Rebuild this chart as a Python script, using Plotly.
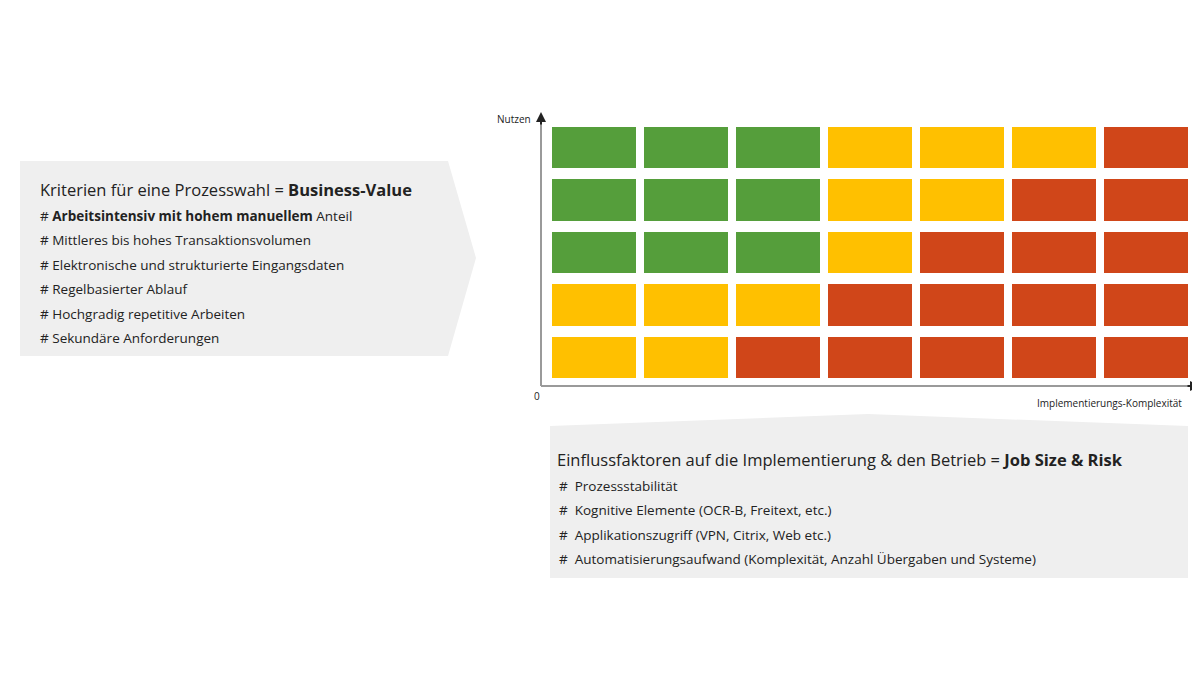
import plotly.graph_objects as go

cols = ["1", "2", "3", "4", "5", "6", "7"]
rows = ["1", "2", "3", "4", "5"]  # bottom to top
# 0 = green, 1 = yellow, 2 = red
levels = [
    [1, 1, 2, 2, 2, 2, 2],
    [1, 1, 1, 2, 2, 2, 2],
    [0, 0, 0, 1, 2, 2, 2],
    [0, 0, 0, 1, 1, 2, 2],
    [0, 0, 0, 1, 1, 1, 2],
]
left_title = ["Kriterien für eine Prozesswahl = ", "Business-Value"]
left_items = [
    "# <b>Arbeitsintensiv mit hohem manuellem</b> Anteil",
    "# Mittleres bis hohes Transaktionsvolumen",
    "# Elektronische und strukturierte Eingangsdaten",
    "# Regelbasierter Ablauf",
    "# Hochgradig repetitive Arbeiten",
    "# Sekundäre Anforderungen",
]
bottom_title = ["Einflussfaktoren auf die Implementierung & den Betrieb = ", "Job Size & Risk"]
bottom_items = [
    "#  Prozessstabilität",
    "#  Kognitive Elemente (OCR-B, Freitext, etc.)",
    "#  Applikationszugriff (VPN, Citrix, Web etc.)",
    "#  Automatisierungsaufwand (Komplexität, Anzahl Übergaben und Systeme)",
]

W, H = 1200, 675
L, R, T, B = 540, 1184, 114, 376
def px(x): return (x - L) / (R - L)
def py(y): return (B - y) / (B - T)

fig = go.Figure(go.Heatmap(
    z=levels, x=cols, y=rows, xgap=8, ygap=11, showscale=False, hoverinfo="skip",
    zmin=0, zmax=2,
    colorscale=[[0, "#559E3B"], [0.333, "#559E3B"], [0.333, "#FFC000"], [0.667, "#FFC000"],
                [0.667, "#D04619"], [1, "#D04619"]],
))

FONT = "Open Sans"
shapes = []
def path(pts):
    return "M " + " L ".join(f"{px(x)},{py(y)}" for x, y in pts) + " Z"
shapes.append(dict(type="path", xref="paper", yref="paper", line_width=0, fillcolor="#EFEFEF", layer="below",
                   path=path([(12, 153), (440, 153), (468, 250), (440, 348), (12, 348)])))
shapes.append(dict(type="path", xref="paper", yref="paper", line_width=0, fillcolor="#EFEFEF", layer="below",
                   path=path([(542, 418), (860, 406), (1180, 418), (1180, 570), (542, 570)])))
shapes.append(dict(type="line", xref="paper", yref="paper", x0=px(533), y0=py(378), x1=px(533), y1=py(112),
                   line=dict(color="#9a9a9a", width=2)))
shapes.append(dict(type="line", xref="paper", yref="paper", x0=px(533), y0=py(378), x1=px(1182), y1=py(378),
                   line=dict(color="#9a9a9a", width=2)))

ann = []
def txt(x, y, s, size, anchor="left", color="#222"):
    ann.append(dict(xref="paper", yref="paper", x=px(x), y=py(y), text=s, showarrow=False,
                    xanchor=anchor, yanchor="middle", font=dict(family=FONT, size=size, color=color)))
ann.append(dict(xref="paper", yref="paper", x=px(533), y=py(104), ax=0, ay=14,
                showarrow=True, arrowhead=2, arrowsize=1, arrowwidth=2, arrowcolor="#222", text=""))
ann.append(dict(xref="paper", yref="paper", x=px(1192), y=py(378), ax=-14, ay=0,
                showarrow=True, arrowhead=2, arrowsize=1, arrowwidth=2, arrowcolor="#222", text=""))
txt(525, 111, "Nutzen", 10, "right")
txt(529, 388, "0", 10, "center")
txt(1176, 395, "Implementierungs-Komplexität", 10, "right")

txt(30, 181, left_title[0] + "<b>" + left_title[1] + "</b>", 16.5)
for i, s in enumerate(left_items):
    txt(30, 208 + i * 24.4, s, 13.5)
txt(547, 451, bottom_title[0] + "<b>" + bottom_title[1] + "</b>", 16.5)
for i, s in enumerate(bottom_items):
    txt(549, 478 + i * 24.3, s, 13.5)

fig.update_layout(
    width=W, height=H, margin=dict(l=L, r=W - R, t=T, b=H - B),
    paper_bgcolor="white", plot_bgcolor="white",
    xaxis=dict(visible=False, range=[-0.5, 6.5], fixedrange=True),
    yaxis=dict(visible=False, range=[-0.5, 4.5], fixedrange=True),
    shapes=shapes, annotations=ann,
)
fig.write_html("out.html")
